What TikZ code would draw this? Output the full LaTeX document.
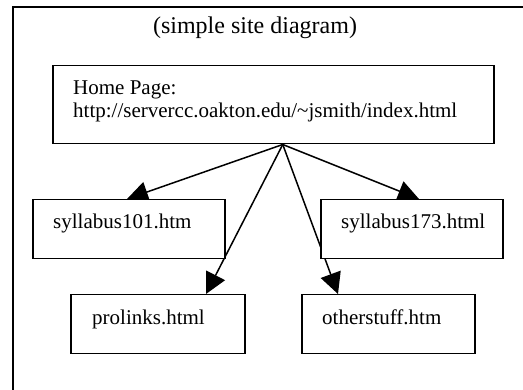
\documentclass[tikz,border=0pt]{standalone}
\usepackage{fontspec}
\setmainfont{Liberation Serif}
\usetikzlibrary{arrows.meta,calc}
\pgfdeclarelayer{bg}
\pgfsetlayers{bg,main}
\begin{document}
\begin{tikzpicture}[x=1pt,y=-1pt,
  pagebox/.style={draw, line width=1.5pt, fill=white, inner sep=0pt, anchor=north west, minimum height=59pt},
  lbl/.style={font=\fontsize{21}{23}\selectfont, anchor=base west, inner sep=0pt},
  link/.style={line width=1.5pt, -{Triangle[length=21pt,width=21pt]}}]
\useasboundingbox (0,0) rectangle (523,390);
\begin{scope}
  \clip (0,0) rectangle (523,390);
  \draw[line width=2.2pt] (13.3,7.3) rectangle (560,420);
\end{scope}
\node[font=\fontsize{24}{28}\selectfont, anchor=base, inner sep=0pt] (title) at (255,34) {(simple site diagram)};
% boxes
\node[pagebox, minimum width=441pt, minimum height=78pt] (home) at (52,65) {};
\node[pagebox, minimum width=192pt] (s1) at (32,199) {};
\node[pagebox, minimum width=182pt] (s2) at (320,199) {};
\node[pagebox, minimum width=174pt] (pl) at (70,294) {};
\node[pagebox, minimum width=173pt] (os) at (301,294) {};
% texts
\node[lbl] (hometa) at ($(home.north west)+(21,30)$) {Home Page:};
\node[lbl] (hometb) at ($(home.north west)+(21,53)$) {http://servercc.oakton.edu/\textasciitilde jsmith/index.html};
\node[lbl] (s1t) at ($(s1.north west)+(21,30)$) {syllabus101.htm};
\node[lbl] (s2t) at ($(s2.north west)+(21,30)$) {syllabus173.html};
\node[lbl] (plt) at ($(pl.north west)+(22,31)$) {prolinks.html};
\node[lbl] (ost) at ($(os.north west)+(21,31)$) {otherstuff.htm};
% connectors
\coordinate (hub) at ($(home.south)+(9.5,0)$);
\coordinate (e1) at ($(s1.north west)+(95,0)$);
\coordinate (e2) at ($(s2.north west)+(99,0)$);
\coordinate (e3) at ($(pl.north west)+(136,0)$);
\coordinate (e4) at ($(os.north west)+(37,0)$);
\begin{pgfonlayer}{bg}
  \draw[link] (hub) -- (e1);
  \draw[link] (hub) -- (e2);
  \draw[link] (hub) -- (e3);
  \draw[link] (hub) -- (e4);
\end{pgfonlayer}
\end{tikzpicture}
\end{document}
